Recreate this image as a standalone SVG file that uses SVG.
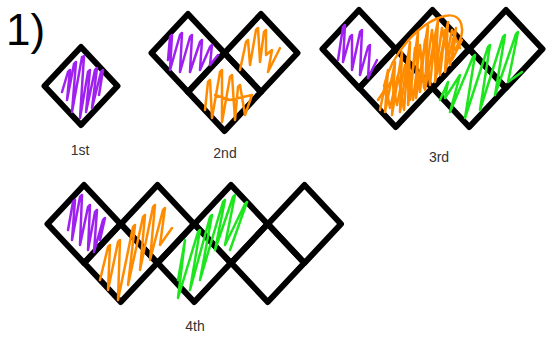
<svg xmlns="http://www.w3.org/2000/svg" xmlns:xlink="http://www.w3.org/1999/xlink" width="559" height="338" viewBox="0 0 559 338">
<style>
.sq{fill:none;stroke:#000;stroke-width:6;stroke-linejoin:round}
.sc{fill:none;stroke-width:2.5;stroke-linejoin:round;stroke-linecap:round}
.pu{stroke:#a020f0}
.or{stroke:#ff8c00}
.gr{stroke:#1ee61e}
.lbl{font-family:"Liberation Sans",Arial,sans-serif;font-size:14px;fill:#333;text-anchor:middle}
</style>
<defs>
<path id="sq" d="M0,-39 L36.5,0 L0,39 L-36.5,0Z"/>
</defs>
<rect width="559" height="338" fill="#fff"/>
<text x="6" y="45" font-family="Liberation Sans, Arial, sans-serif" font-size="44" fill="#000">1)</text>

<g id="fig1">
<use xlink:href="#sq" href="#sq" class="sq" x="81" y="86"/>
<polyline class="sc pu" points="62,92 68,72 70,70 67,100 74,64 76,62 72,112 82,57 84,56 80,118 88,72 90,70 86,112 95,70 97,68 92,108 101,72 103,70 99,95"/>
<text class="lbl" x="80" y="155">1st</text>
</g>

<g id="fig2">
<use xlink:href="#sq" href="#sq" class="sq" x="188" y="53"/>
<use xlink:href="#sq" href="#sq" class="sq" x="261" y="53"/>
<use xlink:href="#sq" href="#sq" class="sq" x="224.5" y="92"/>
<polyline class="sc pu" points="168,60 170,37 172,35 170,70 180,35 182,33 180,72 190,37 192,35 190,72 200,42 202,40 200,70 210,47 212,45 210,65 218,55"/>
<polyline class="sc or" points="240,70 246,42 248,40 250,65 256,30 258,28 260,62 264,32 266,30 266,55 272,50 268,72 280,48"/>
<polyline class="sc or" points="205,110 208,82 210,80 212,118 220,72 222,70 222,122 230,77 232,75 235,120 238,87 240,85 245,115 252,95 230,100 215,95"/>
<text class="lbl" x="225" y="158">2nd</text>
</g>

<g id="fig3">
<use xlink:href="#sq" href="#sq" class="sq" x="359" y="49"/>
<use xlink:href="#sq" href="#sq" class="sq" x="432.5" y="49"/>
<use xlink:href="#sq" href="#sq" class="sq" x="506" y="49"/>
<use xlink:href="#sq" href="#sq" class="sq" x="395.75" y="88"/>
<use xlink:href="#sq" href="#sq" class="sq" x="469.25" y="88"/>
<polyline class="sc pu" points="338,60 343,27 345,25 343,62 350,37 352,35 352,70 360,32 362,30 360,75 368,47 370,45 368,78 377,60"/>
<polyline class="sc or" points="380,110 388,70 385,112 395,62 392,115 402,52 400,112 410,42 408,105 418,32 416,98 428,25 425,90 438,20 435,82 448,22 445,72 456,28 452,60 462,40"/>
<polyline class="sc or" points="383,95 392,80 397,105 405,65 410,100 415,48 420,92 425,40 430,85 435,35 440,75 445,30 450,65 455,40"/>
<polyline class="sc or" points="378,100 386,88 390,108 398,75 404,110 408,58 413,100 420,45 424,88 432,30 436,70 442,28 447,55 452,30 460,48"/>
<path class="sc or" d="M384,86 C392,52 420,22 445,16 C462,12 468,30 455,50"/>
<polyline class="sc gr" points="440,100 448,82 445,98 460,75 450,112 473,57 475,55 465,118 488,47 490,45 480,110 503,37 505,35 495,95 516,34 518,32 508,82 522,72"/>
<text class="lbl" x="439" y="162">3rd</text>
</g>

<g id="fig4">
<use xlink:href="#sq" href="#sq" class="sq" x="84" y="224"/>
<use xlink:href="#sq" href="#sq" class="sq" x="157.5" y="224"/>
<use xlink:href="#sq" href="#sq" class="sq" x="231" y="224"/>
<use xlink:href="#sq" href="#sq" class="sq" x="304.5" y="224"/>
<use xlink:href="#sq" href="#sq" class="sq" x="120.75" y="263"/>
<use xlink:href="#sq" href="#sq" class="sq" x="194.25" y="263"/>
<use xlink:href="#sq" href="#sq" class="sq" x="267.75" y="263"/>
<polyline class="sc pu" points="68,230 73,202 75,200 72,240 80,197 82,195 80,245 88,207 90,205 88,250 95,212 97,210 94,252 103,220 105,218 100,240"/>
<polyline class="sc or" points="100,280 108,247 110,245 108,290 118,242 120,240 118,300 133,227 135,225 128,285 143,217 145,215 140,270 153,207 155,205 150,260 163,210 165,208 160,245 172,228"/>
<polyline class="sc gr" points="178,280 185,240 178,298 198,232 200,230 190,290 210,217 212,215 200,280 223,202 225,200 215,250 233,197 235,195 225,245 245,204 247,202 230,250"/>
<text class="lbl" x="195" y="331">4th</text>
</g>
</svg>
